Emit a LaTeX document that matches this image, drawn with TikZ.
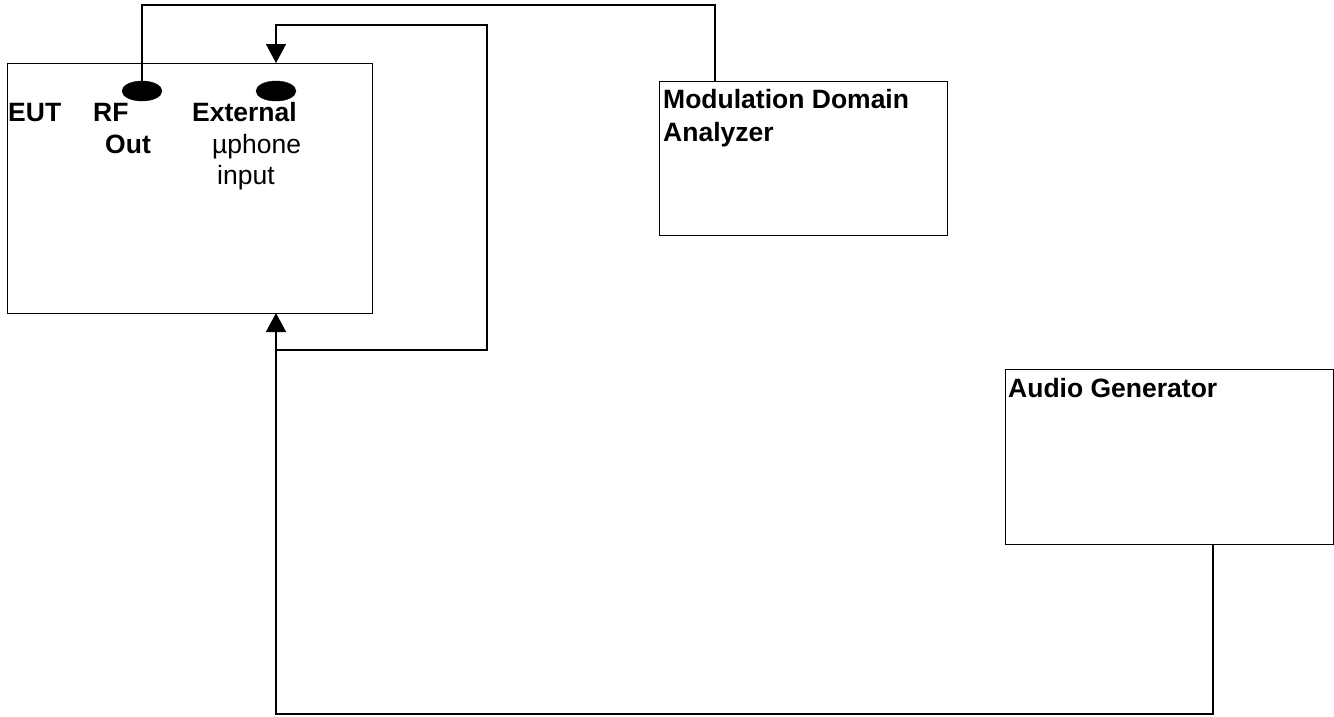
\documentclass[tikz,border=0pt]{standalone}
\usepackage{fontspec}
\setmainfont{Liberation Sans}
\usetikzlibrary{shapes.geometric,arrows.meta}
\begin{document}
\begin{tikzpicture}[x=1pt,y=-1pt,
  box/.style={draw, line width=1.4pt, rectangle, anchor=north west, inner sep=0pt},
  port/.style={ellipse, fill=black, draw=black, minimum width=40pt, minimum height=20pt, inner sep=0pt},
  wire/.style={line width=1.4pt},
  arr/.style={wire, -{Triangle[length=19pt,width=20pt]}},
  bl/.style={inner sep=0pt, anchor=base west, font=\fontsize{26.5}{32}\selectfont\bfseries},
  rl/.style={inner sep=0pt, anchor=base west, font=\fontsize{26.5}{32}\selectfont}]
\useasboundingbox (0,0) rectangle (1334,716);
% boxes
\node[box, minimum width=365pt, minimum height=250pt] (eut) at (7,63) {};
\node[box, minimum width=288pt, minimum height=154pt] (mda) at (659,81) {};
\node[box, minimum width=328pt, minimum height=175pt] (ag) at (1005,369) {};
% ports
\node[port] (rf) at (142,91) {};
\node[port] (ext) at (276,91) {};
% labels
\node[bl] (eutlbl) at (8,121) {EUT};
\node[bl] (rflbl) at (93,121) {RF};
\node[bl] (outlbl) at (105,153) {Out};
\node[bl] (extlbl) at (192,121) {External};
\node[rl] (uphlbl) at (212,153) {µphone};
\node[rl] (inplbl) at (217,184) {input};
\node[bl] (mdalbl1) at (663,108) {Modulation Domain};
\node[bl] (mdalbl2) at (663,141) {Analyzer};
\node[bl] (aglbl) at (1008,397) {Audio Generator};
% coordinates
\coordinate (rftop) at (142,5);
\coordinate (mdain) at (715,81);
\coordinate (agout) at (1213,544);
\coordinate (corner) at (276,714);
\coordinate (eutbot) at (276,313);
\coordinate (loopstart) at (276,350);
\coordinate (loopR) at (487,25);
\coordinate (looptop) at (276,25);
\coordinate (euttop) at (276,63);
% connectors
\draw[wire] (rf.north) -- (rftop) -| (mdain);
\draw[arr] (agout) |- (corner) -- (eutbot);
\draw[arr] (loopstart) -| (loopR) -- (looptop) -- (euttop);
\end{tikzpicture}
\end{document}
